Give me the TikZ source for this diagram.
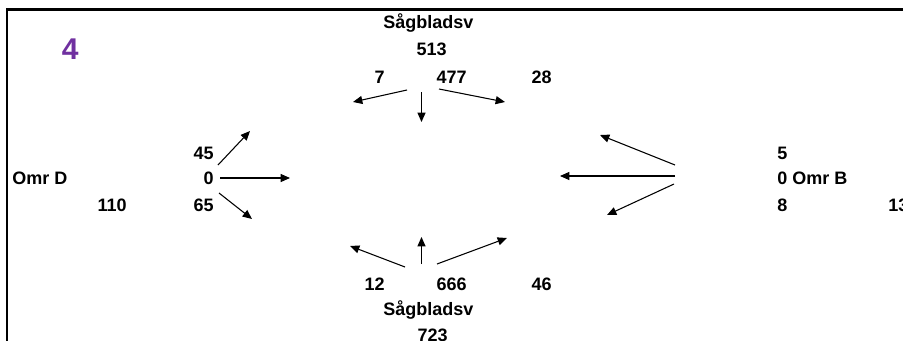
\documentclass[tikz,border=0pt]{standalone}
\usepackage{fontspec}
\setmainfont{Liberation Sans}
\usetikzlibrary{arrows.meta}
\definecolor{areapurple}{RGB}{112,48,160}
\tikzset{
  lbl/.style={inner sep=0pt, font=\bfseries\fontsize{13.5pt}{16pt}\selectfont},
  flow/.style={line width=0.8pt, -{Triangle[length=7pt,width=6pt]}},
  frameline/.style={line width=1.7pt}
}
\begin{document}
\begin{tikzpicture}[x=0.75pt, y=-0.75pt]
\useasboundingbox (0,0) rectangle (903,340);
\fill[white] (0,0) rectangle (903,340);

% frame (open towards right and bottom)
\coordinate (fbl) at (7.2,345);
\coordinate (ftl) at (7.2,9.5);
\coordinate (ftr) at (910,9.5);
\draw[frameline] (fbl) -- (ftl) -- (ftr);

% sheet number
\node[inner sep=0pt, anchor=base west, text=areapurple,
      font=\bfseries\fontsize{22.5pt}{26pt}\selectfont] (num) at (61.5,59) {4};

% area D (left)
\node[lbl, anchor=base west] (omrD) at (12,184.5) {Omr D};
\node[lbl, anchor=base east] (d110) at (127,211) {110};
\node[lbl, anchor=base east] (d45) at (214,159) {45};
\node[lbl, anchor=base east] (d0) at (214,184.5) {0};
\node[lbl, anchor=base east] (d65) at (214,211) {65};

% saw blade top
\node[lbl, anchor=base west] (sTop) at (383,28) {Sågbladsv};
\node[lbl, anchor=base east] (t513) at (447,55) {513};
\node[lbl, anchor=base east] (t7) at (385,83) {7};
\node[lbl, anchor=base east] (t477) at (467,83) {477};
\node[lbl, anchor=base east] (t28) at (552,83) {28};

% saw blade bottom
\node[lbl, anchor=base east] (b12) at (385,290) {12};
\node[lbl, anchor=base east] (b666) at (467,290) {666};
\node[lbl, anchor=base east] (b46) at (552,290) {46};
\node[lbl, anchor=base west] (sBot) at (383,315) {Sågbladsv};
\node[lbl, anchor=base east] (b723) at (448,341) {723};

% area B (right)
\node[lbl, anchor=base west] (r5) at (777,159) {5};
\node[lbl, anchor=base west] (r0) at (777,184.5) {0 Omr B};
\node[lbl, anchor=base west] (r8) at (777,211) {8};
\node[lbl, anchor=base west] (r13) at (888,211) {13};

% arrow end points
\coordinate (dA1s) at (218,165);  \coordinate (dA1e) at (250,131);
\coordinate (dA2s) at (220,178);  \coordinate (dA2e) at (290,178);
\coordinate (dA3s) at (219,193);  \coordinate (dA3e) at (252,219);

\coordinate (tA1s) at (407,90);   \coordinate (tA1e) at (353,102);
\coordinate (tA2s) at (421.5,92); \coordinate (tA2e) at (421.5,122);
\coordinate (tA3s) at (439,89);   \coordinate (tA3e) at (505,102);

\coordinate (rA1s) at (675,165);  \coordinate (rA1e) at (600,135);
\coordinate (rA2s) at (675,176);  \coordinate (rA2e) at (560,176);
\coordinate (rA3s) at (674,184);  \coordinate (rA3e) at (607,215);

\coordinate (bA1s) at (405,267);  \coordinate (bA1e) at (350,246);
\coordinate (bA2s) at (421.5,264);\coordinate (bA2e) at (421.5,237);
\coordinate (bA3s) at (437,264);  \coordinate (bA3e) at (507,238);

% flows
\draw[flow] (dA1s) -- (dA1e);
\draw[flow] (dA2s) -- (dA2e);
\draw[flow] (dA3s) -- (dA3e);
\draw[flow] (tA1s) -- (tA1e);
\draw[flow] (tA2s) -- (tA2e);
\draw[flow] (tA3s) -- (tA3e);
\draw[flow] (rA1s) -- (rA1e);
\draw[flow] (rA2s) -- (rA2e);
\draw[flow] (rA3s) -- (rA3e);
\draw[flow] (bA1s) -- (bA1e);
\draw[flow] (bA2s) -- (bA2e);
\draw[flow] (bA3s) -- (bA3e);
\end{tikzpicture}
\end{document}
